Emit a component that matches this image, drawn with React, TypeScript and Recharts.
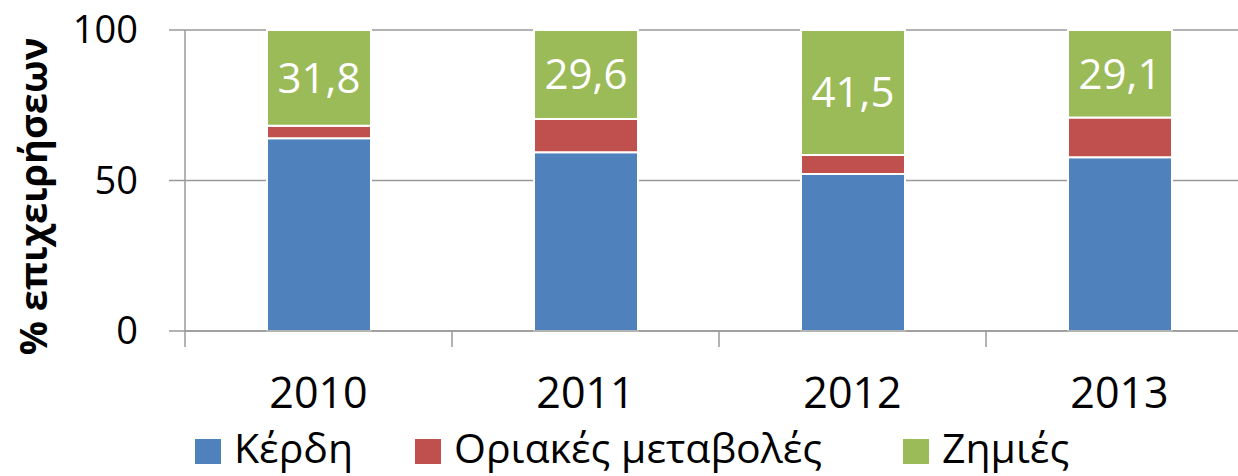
import * as React from 'react'
import { Bar, BarChart, CartesianGrid, LabelList, Legend, XAxis, YAxis } from 'recharts'

// DATA

const years = ['2010', '2011', '2012', '2013']
const profits = [64.0, 59.4, 52.2, 57.7]
const marginal = [4.2, 11.0, 6.3, 13.2]
const losses = [31.8, 29.6, 41.5, 29.1]
const yTicks = [0, 50, 100]

const seriesKeys = ['profits', 'marginal', 'losses']
const seriesNames = { profits: 'Κέρδη', marginal: 'Οριακές μεταβολές', losses: 'Ζημιές' }
const yLabel = '% επιχειρήσεων'

const data = years.map((year, i) => ({ year, profits: profits[i], marginal: marginal[i], losses: losses[i] }))

// LAYOUT

const FONT = '"Open Sans", "Noto Sans", sans-serif'
const CHART_W = 1260
const CHART_H = 476
const MARGIN = { top: 30, right: 7, left: 0, bottom: 0 }
const Y_AXIS_W = 185
const BAND = (CHART_W - MARGIN.left - MARGIN.right - Y_AXIS_W) / years.length
const AXIS_GRAY = '#9a9a9a'
const TICK_SIZE = 16
const X_TICK_MARGIN = 30
const LEGEND_ITEM_W = [220, 488, 200]

const XTick = (props: any) => {
    const { x, y, payload } = props
    const lineBottom = y - X_TICK_MARGIN
    return (
        <g>
            <line x1={x - BAND / 2} x2={x - BAND / 2} y1={lineBottom - TICK_SIZE} y2={lineBottom} stroke={AXIS_GRAY} strokeWidth={1.5}/>
            <text x={x} y={y} dy='0.71em' textAnchor='middle' fontSize={43} fontFamily={FONT} fill='#000'>{payload.value}</text>
        </g>
    )
}

const YLabel = (props: any) => {
    const vb = props.viewBox
    const x = vb.x + 47
    const y = vb.y + vb.height / 2 + 16
    return (
        <text x={x} y={y} textAnchor='middle' transform={`rotate(-90, ${x}, ${y})`} fontSize={38} fontWeight='bold' fontFamily={FONT} fill='#000'>
            {yLabel}
        </text>
    )
}

const LegendContent = (props: any) => {
    const items = [...(props.payload || [])].sort((a: any, b: any) => seriesKeys.indexOf(a.dataKey) - seriesKeys.indexOf(b.dataKey))
    return (
        <div style={{ display: 'flex', paddingLeft: 195, fontFamily: FONT, fontSize: 41, lineHeight: '50px', height: 50, color: '#000' }}>
            {items.map((item: any, i: number) => (
                <div key={i} style={{ display: 'flex', width: LEGEND_ITEM_W[i], whiteSpace: 'nowrap' }}>
                    <div style={{ width: 26, height: 25, marginTop: 17, marginRight: 13, background: item.color, flex: 'none' }}/>
                    <span>{item.value}</span>
                </div>
            ))}
        </div>
    )
}

const fmt = (v: any) => String(v).replace('.', ',')

export default function App() {
    return (
        <div style={{ position: 'absolute', left: 0, top: 0, width: 1238, height: 476, overflow: 'hidden', background: '#fff' }}>
            <BarChart width={CHART_W} height={CHART_H} data={data} margin={MARGIN}>
                <CartesianGrid vertical={false} stroke={AXIS_GRAY} strokeWidth={1.5}/>
                <XAxis dataKey='year' height={95} axisLine={{ stroke: AXIS_GRAY, strokeWidth: 1.5 }} tickLine={false}
                       tickSize={TICK_SIZE} tickMargin={X_TICK_MARGIN} tick={<XTick/>} interval={0}/>
                <YAxis width={Y_AXIS_W} domain={[0, 100]} ticks={yTicks} interval={0}
                       axisLine={{ stroke: AXIS_GRAY, strokeWidth: 1.5 }} tickLine={{ stroke: AXIS_GRAY, strokeWidth: 1.5 }}
                       tickSize={TICK_SIZE} tickMargin={31}
                       tick={{ fontSize: 38, fill: '#000', fontFamily: FONT }}
                       label={{ value: yLabel, content: <YLabel/> }}/>
                <Legend content={<LegendContent/>} wrapperStyle={{ top: 422, left: 0, width: 1238, height: 50 }}/>
                <Bar dataKey='profits' name={seriesNames.profits} stackId='a' fill='#4f81bd' stroke='#fff' strokeWidth={2} barSize={104} isAnimationActive={false}/>
                <Bar dataKey='marginal' name={seriesNames.marginal} stackId='a' fill='#c0504d' stroke='#fff' strokeWidth={2} barSize={104} isAnimationActive={false}/>
                <Bar dataKey='losses' name={seriesNames.losses} stackId='a' fill='#9bbb59' stroke='#fff' strokeWidth={2} barSize={104} isAnimationActive={false}>
                    <LabelList dataKey='losses' position='center' formatter={fmt} fill='#fff' fontSize={42} fontFamily={FONT}/>
                </Bar>
            </BarChart>
        </div>
    )
}
